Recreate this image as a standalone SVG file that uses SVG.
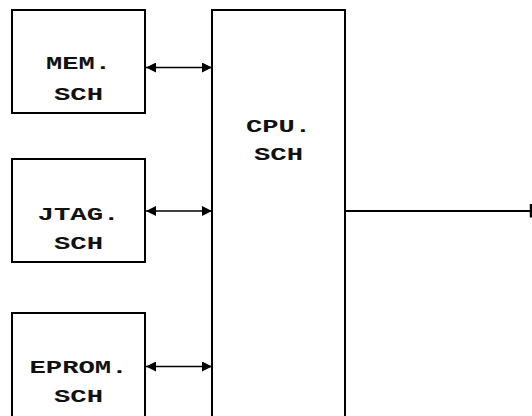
<svg xmlns="http://www.w3.org/2000/svg" width="532" height="416" viewBox="0 0 532 416">
<style>
.box{fill:#fff;stroke:#000;stroke-width:2}
.lbl{font-family:"Liberation Mono","Courier New",monospace;font-weight:bold;font-size:19px;fill:#111;text-anchor:middle}
.wire{stroke:#000;stroke-width:1.5;fill:none}
.out{stroke:#000;stroke-width:2;fill:none}
</style>
<defs>
<marker id="ah" viewBox="0 0 10 10" refX="10" refY="5" markerWidth="10" markerHeight="10" markerUnits="userSpaceOnUse" orient="auto-start-reverse">
<path d="M0,0 L10,5 L0,10 Z" fill="#000"/>
</marker>
</defs>
<rect width="532" height="416" fill="#fff"/>
<g id="mem">
<rect class="box" x="12" y="10" width="133" height="103"/>
<text class="lbl" x="78.5" y="69" textLength="65" lengthAdjust="spacingAndGlyphs">MEM.</text>
<text class="lbl" x="78.5" y="100" textLength="49" lengthAdjust="spacingAndGlyphs">SCH</text>
</g>
<g id="jtag">
<rect class="box" x="12" y="159" width="133" height="103"/>
<text class="lbl" x="78.5" y="220" textLength="82" lengthAdjust="spacingAndGlyphs">JTAG.</text>
<text class="lbl" x="78.5" y="249" textLength="49" lengthAdjust="spacingAndGlyphs">SCH</text>
</g>
<g id="eprom">
<rect class="box" x="12" y="313" width="133" height="120"/>
<text class="lbl" x="78.5" y="372.5" textLength="98" lengthAdjust="spacingAndGlyphs">EPROM.</text>
<text class="lbl" x="78.5" y="401.5" textLength="49" lengthAdjust="spacingAndGlyphs">SCH</text>
</g>
<g id="cpu">
<rect class="box" x="212" y="10" width="133" height="420"/>
<text class="lbl" x="278.5" y="131.5" textLength="65" lengthAdjust="spacingAndGlyphs">CPU.</text>
<text class="lbl" x="278.5" y="160" textLength="49" lengthAdjust="spacingAndGlyphs">SCH</text>
</g>
<g id="connectors">
<line class="wire" x1="146" y1="67.5" x2="212" y2="67.5" marker-start="url(#ah)" marker-end="url(#ah)"/>
<line class="wire" x1="146" y1="211" x2="212" y2="211" marker-start="url(#ah)" marker-end="url(#ah)"/>
<line class="wire" x1="146" y1="366.5" x2="212" y2="366.5" marker-start="url(#ah)" marker-end="url(#ah)"/>
<line class="out" x1="345" y1="211" x2="530" y2="211"/>
<line stroke="#000" stroke-width="2.5" x1="531" y1="204" x2="531" y2="217.5"/>
</g>
</svg>
